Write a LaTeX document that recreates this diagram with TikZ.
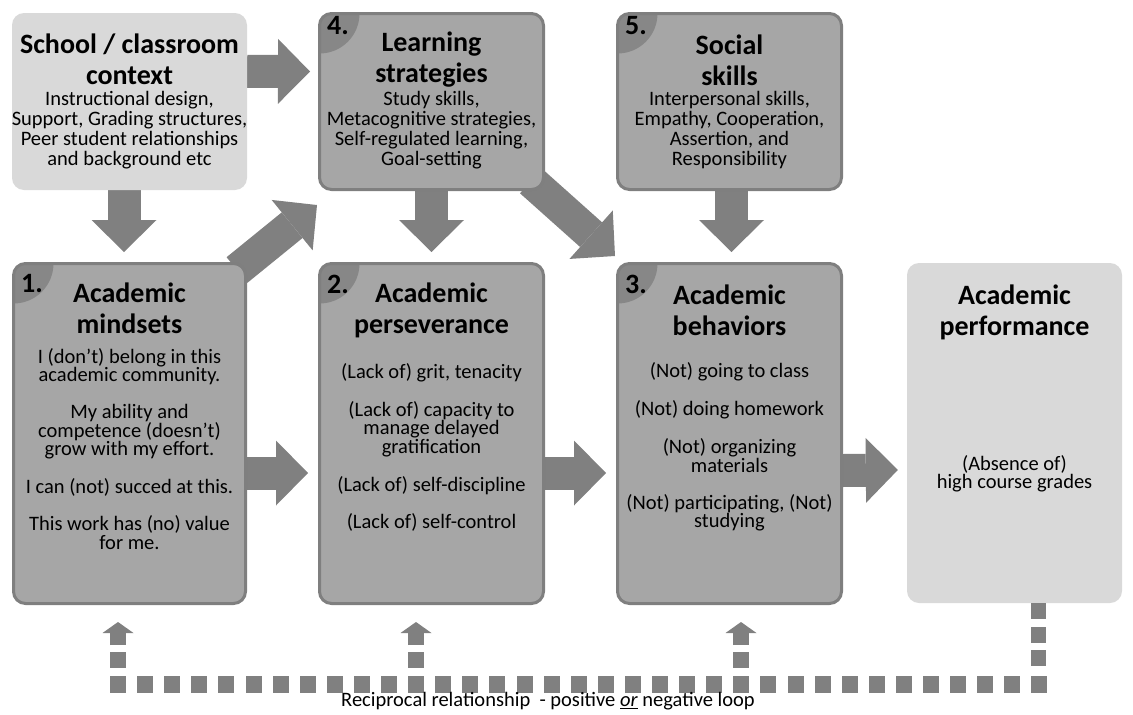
\documentclass[tikz,border=0pt]{standalone}
\usepackage{fontspec}
\setmainfont{Carlito}
\usepackage{tikz}
\usetikzlibrary{calc,arrows.meta,backgrounds}
\definecolor{boxgray}{HTML}{A6A6A6}
\definecolor{edgegray}{HTML}{7F7F7F}
\definecolor{cornergray}{HTML}{878787}
\definecolor{ctxgray}{HTML}{D9D9D9}
\definecolor{arrowgray}{HTML}{808080}

\begin{document}
\begin{tikzpicture}[x=1pt,y=-1pt,
  mainbox/.style={draw=edgegray,line width=3pt,fill=boxgray,rounded corners=12pt,
    minimum width=224pt,inner sep=0pt,
    path picture={\fill[cornergray] (path picture bounding box.north west) circle (40pt);}},
  sidebox/.style={fill=ctxgray,rounded corners=12pt,inner sep=0pt},
  heading/.style={font=\fontsize{28}{31}\selectfont\bfseries,align=center,inner sep=0pt},
  body/.style={font=\fontsize{20.5}{18.5}\selectfont,align=center,inner sep=0pt},
  topbody/.style={body,font=\fontsize{20.5}{20}\selectfont},
  number/.style={font=\fontsize{28}{30}\selectfont\bfseries,inner sep=0pt},
  blockarrow/.style={arrowgray,line width=33pt,-{Triangle[length=32pt,width=65pt,line width=0pt]}},
  looparrow/.style={arrowgray,line width=16pt,-{Triangle[length=11pt,width=31pt,line width=0pt]}}]

\useasboundingbox (0,0) rectangle (1133,715);

% top row
\node[sidebox,minimum width=235pt,minimum height=177pt] (ctx) at (129.5,101.5) {};
\node[mainbox,minimum height=176pt] (strat) at (431.5,101.5) {};
\node[mainbox,minimum height=176pt] (soc) at (729.5,101.5) {};

% bottom row
\node[mainbox,minimum width=232pt,minimum height=340pt] (mind) at (129.5,433.5) {};
\node[mainbox,minimum height=340pt] (pers) at (431.5,433.5) {};
\node[mainbox,minimum height=340pt] (behav) at (729.5,433.5) {};
\node[sidebox,minimum width=215pt,minimum height=340pt] (perf) at (1014.5,433) {};

\node[number] (n4) at (338,26) {4.};
\node[number] (n5) at (636,26) {5.};
\node[number] (n1) at (32,284) {1.};
\node[number] (n2) at (338,284) {2.};
\node[number] (n3) at (636,284) {3.};

\node[heading] (ctx-h) at (129.5,59) {School / classroom\\context};
\node[topbody] (ctx-b) at (129.5,130) {Instructional design,\\Support, Grading structures,\\Peer student relationships\\and background etc};
\node[heading] (strat-h) at (431.5,60) {Learning\\strategies};
\node[topbody] (strat-b) at (431.5,130) {Study skills,\\Metacognitive strategies,\\Self-regulated learning,\\Goal-setting};
\node[heading] (soc-h) at (729.5,60) {Social\\skills};
\node[topbody] (soc-b) at (729.5,130) {Interpersonal skills,\\Empathy, Cooperation,\\Assertion, and\\Responsibility};

\node[heading] (mind-h) at (129.5,308) {Academic\\mindsets};
\node[body] (mind-b) at (129.5,449) {I (don’t) belong in this\\academic community.\\[18.5pt]My ability and\\competence (doesn’t)\\grow with my effort.\\[18.5pt]I can (not) succed at this.\\[18.5pt]This work has (no) value\\for me.};
\node[heading] (pers-h) at (431.5,310) {Academic\\perseverance};
\node[body] (pers-b) at (431.5,447) {(Lack of) grit, tenacity\\[18.5pt](Lack of) capacity to\\manage delayed\\gratification\\[18.5pt](Lack of) self-discipline\\[18.5pt](Lack of) self-control};
\node[heading] (behav-h) at (729.5,310) {Academic\\behaviors};
\node[body] (behav-b) at (729.5,447) {(Not) going to class\\[18.5pt](Not) doing homework\\[18.5pt](Not) organizing\\materials\\[18.5pt](Not) participating, (Not)\\studying};
\node[heading] (perf-h) at (1014.5,312) {Academic\\performance};
\node[body] (perf-b) at (1014.5,474) {(Absence of)\\high course grades};

\begin{scope}[on background layer]
\draw[blockarrow] ($(ctx.north east)+(0,58.5)$) -- ($(strat.north west)+(-8,59.5)$);
\draw[blockarrow] ($(ctx.south)+(-5.5,0)$) -- ($(mind.north)+(-5.5,-10)$);
\draw[blockarrow] ($(mind.north east)+(-10,8)$) -- ($(strat.south west)+(-1,14)$);
\draw[blockarrow] (strat.south) -- ($(pers.north)+(0,-10)$);
\draw[blockarrow] ($(strat.south east)+(-14,-10)$) -- ($(behav.north west)+(-1,-6)$);
\draw[blockarrow] ($(soc.south)+(2,0)$) -- ($(behav.north)+(2,-10)$);
\draw[blockarrow] ($(mind.east)+(0,39.5)$) -- ($(pers.west)+(-10,39.5)$);
\draw[blockarrow] ($(pers.east)+(0,39.5)$) -- ($(behav.west)+(-10,39.5)$);
\draw[blockarrow] ($(behav.east)+(0,37)$) -- ($(perf.west)+(-9,37)$);
\end{scope}

% feedback loop
\foreach \i in {0,...,34}
    \fill[arrowgray] (110+27.1*\i,676) rectangle +(16,17);
\foreach \y in {603,627,650}
    \fill[arrowgray] (1031,\y) rectangle +(15,16);
\foreach \x in {110,408,733}
    \fill[arrowgray] (\x,652) rectangle +(16,16);

\draw[looparrow] ($(mind.south)+(-11.5,40)$) -- ($(mind.south)+(-11.5,17)$);
\draw[looparrow] ($(pers.south)+(-15.5,40)$) -- ($(pers.south)+(-15.5,17)$);
\draw[looparrow] ($(behav.south)+(11.5,40)$) -- ($(behav.south)+(11.5,17)$);

\node[font=\fontsize{20.5}{22}\selectfont,inner sep=0pt] (loop) at (548,701) {Reciprocal relationship ~- positive \underline{\textit{or}} negative loop};
\end{tikzpicture}
\end{document}
